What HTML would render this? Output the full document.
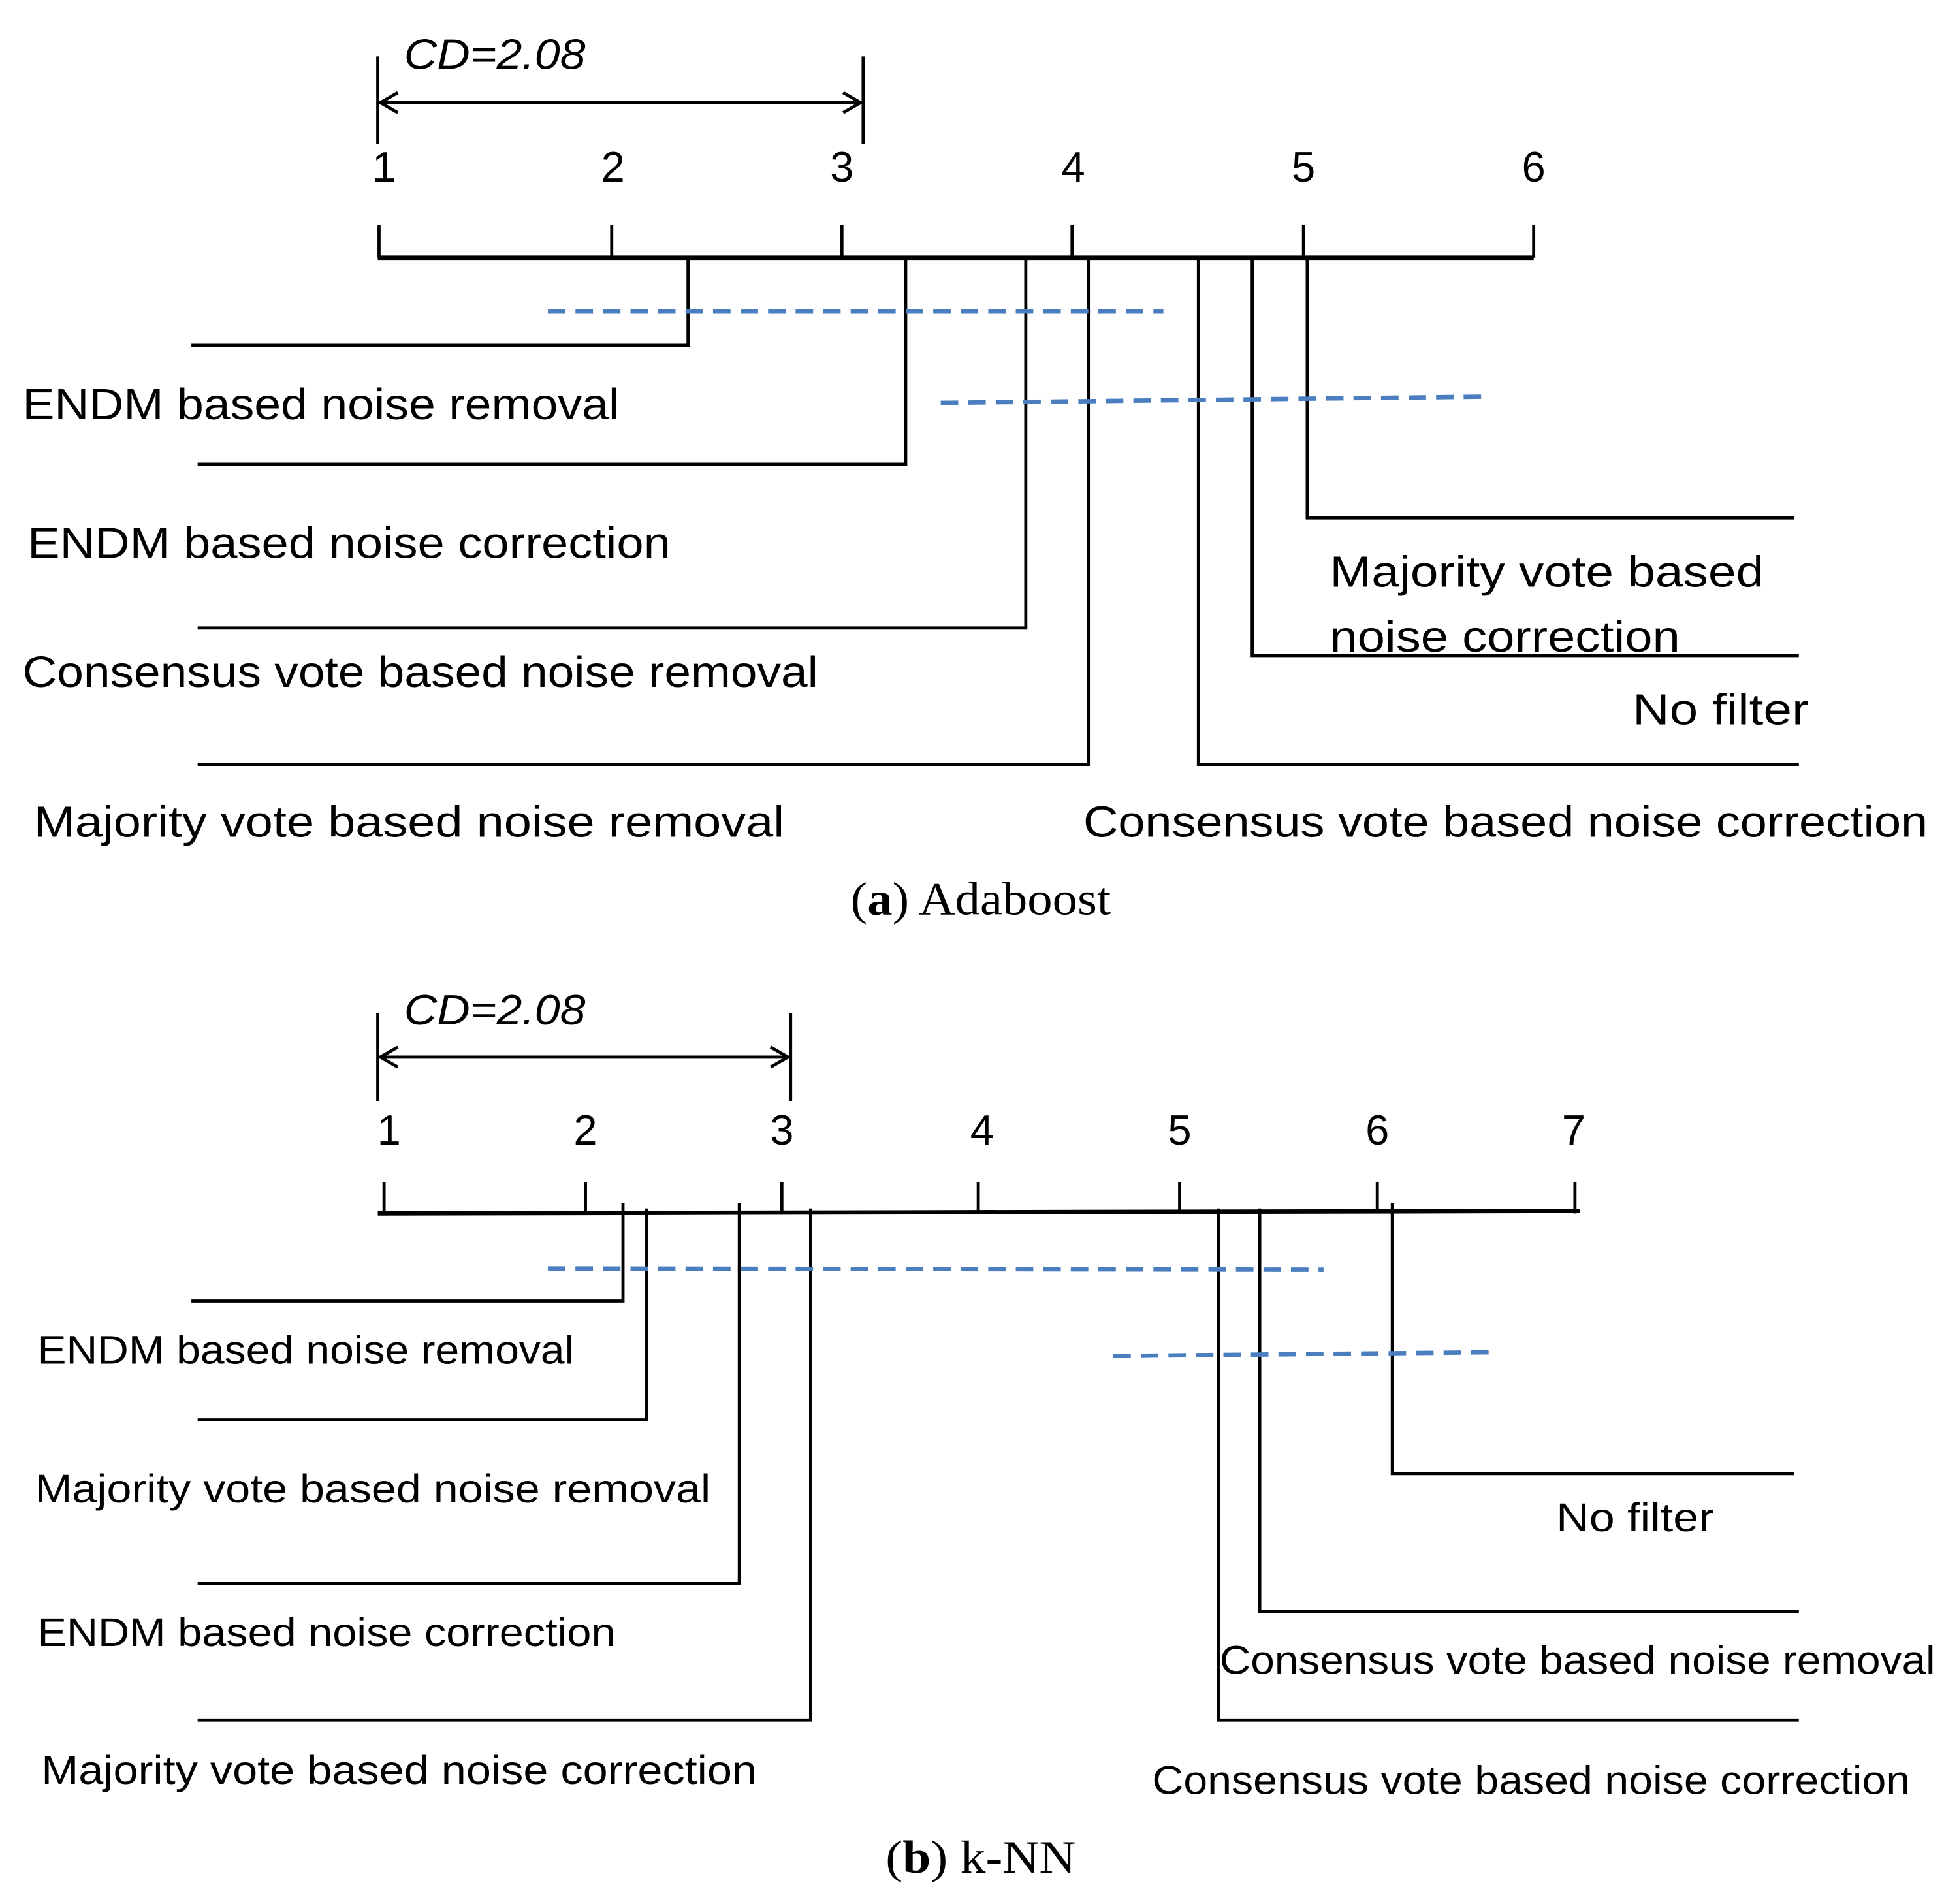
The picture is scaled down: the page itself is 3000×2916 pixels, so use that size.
<!DOCTYPE html>
<html><head><meta charset="utf-8"><style>html,body{margin:0;padding:0;background:#fff}svg{display:block}</style></head>
<body>
<svg width="3000" height="2916" viewBox="0 0 1566 1522" xmlns="http://www.w3.org/2000/svg" font-family="Liberation Sans, sans-serif">
<g stroke="#000" stroke-width="2.5" fill="none">
<line x1="302" y1="45" x2="302" y2="115"/><line x1="690" y1="45" x2="690" y2="115"/>
<line x1="304" y1="82" x2="688" y2="82"/>
<polyline points="318,74 304,82 318,90"/><polyline points="674,74 688,82 674,90"/>
<line x1="302" y1="206" x2="1226" y2="206" stroke-width="3.5"/>
<line x1="303" y1="180" x2="303" y2="206"/><line x1="489" y1="180" x2="489" y2="206"/>
<line x1="673" y1="180" x2="673" y2="206"/><line x1="857" y1="180" x2="857" y2="206"/>
<line x1="1042" y1="180" x2="1042" y2="206"/><line x1="1226" y1="180" x2="1226" y2="206"/>
<polyline points="550,206 550,276 153,276"/>
<polyline points="724,206 724,371 158,371"/>
<polyline points="820,206 820,502 158,502"/>
<polyline points="870,206 870,611 158,611"/>
<polyline points="958,206 958,611 1438,611"/>
<polyline points="1001,206 1001,524 1438,524"/>
<polyline points="1045,206 1045,414 1434,414"/>
<line x1="302" y1="810" x2="302" y2="880"/><line x1="632" y1="810" x2="632" y2="880"/>
<line x1="304" y1="845" x2="630" y2="845"/>
<polyline points="318,837 304,845 318,853"/><polyline points="616,837 630,845 616,853"/>
<line x1="302" y1="970" x2="1263" y2="968" stroke-width="3.5"/>
<line x1="307" y1="945" x2="307" y2="970"/><line x1="468" y1="945" x2="468" y2="970"/>
<line x1="625" y1="945" x2="625" y2="970"/><line x1="782" y1="945" x2="782" y2="970"/>
<line x1="943" y1="945" x2="943" y2="970"/><line x1="1101" y1="945" x2="1101" y2="970"/>
<line x1="1259" y1="945" x2="1259" y2="970"/>
<polyline points="498,962 498,1040 153,1040"/>
<polyline points="517,966 517,1135 158,1135"/>
<polyline points="591,962 591,1266 158,1266"/>
<polyline points="648,966 648,1375 158,1375"/>
<polyline points="974,966 974,1375 1438,1375"/>
<polyline points="1007,966 1007,1288 1438,1288"/>
<polyline points="1113,962 1113,1178 1434,1178"/>
</g>
<g stroke="#4a7ebf" stroke-width="3.5" stroke-dasharray="14,8" fill="none">
<line x1="438" y1="249" x2="930" y2="249"/>
<line x1="752" y1="322" x2="1190" y2="317"/>
<line x1="438" y1="1014" x2="1058" y2="1015"/>
<line x1="890" y1="1084" x2="1190" y2="1081"/>
</g>
<g font-size="34" fill="#000">
<text x="323" y="55" font-style="italic" textLength="145" lengthAdjust="spacingAndGlyphs">CD=2.08</text>
<text x="323" y="819" font-style="italic" textLength="145" lengthAdjust="spacingAndGlyphs">CD=2.08</text>
<g text-anchor="middle">
<text x="307" y="145">1</text><text x="490" y="145">2</text><text x="673" y="145">3</text><text x="858" y="145">4</text><text x="1042" y="145">5</text><text x="1226" y="145">6</text>
<text x="311" y="915">1</text><text x="468" y="915">2</text><text x="625" y="915">3</text><text x="785" y="915">4</text><text x="943" y="915">5</text><text x="1101" y="915">6</text><text x="1258" y="915">7</text>
</g>
</g>
<g font-size="35" fill="#000">
<text x="18" y="335" textLength="477" lengthAdjust="spacingAndGlyphs">ENDM based noise removal</text>
<text x="22" y="446" textLength="514" lengthAdjust="spacingAndGlyphs">ENDM based noise correction</text>
<text x="18" y="549" textLength="636" lengthAdjust="spacingAndGlyphs">Consensus vote based noise removal</text>
<text x="27" y="669" textLength="600" lengthAdjust="spacingAndGlyphs">Majority vote based noise removal</text>
<text x="866" y="669" textLength="675" lengthAdjust="spacingAndGlyphs">Consensus vote based noise correction</text>
<text x="1305" y="579" textLength="141" lengthAdjust="spacingAndGlyphs">No filter</text>
<text x="1063" y="469" textLength="347" lengthAdjust="spacingAndGlyphs">Majority vote based</text>
<text x="1063" y="521" textLength="280" lengthAdjust="spacingAndGlyphs">noise correction</text>
</g>
<g font-size="32" fill="#000">
<text x="30" y="1090" textLength="429" lengthAdjust="spacingAndGlyphs">ENDM based noise removal</text>
<text x="28" y="1201" textLength="540" lengthAdjust="spacingAndGlyphs">Majority vote based noise removal</text>
<text x="30" y="1316" textLength="462" lengthAdjust="spacingAndGlyphs">ENDM based noise correction</text>
<text x="33" y="1426" textLength="572" lengthAdjust="spacingAndGlyphs">Majority vote based noise correction</text>
<text x="1244" y="1224" textLength="126" lengthAdjust="spacingAndGlyphs">No filter</text>
<text x="975" y="1338" textLength="572" lengthAdjust="spacingAndGlyphs">Consensus vote based noise removal</text>
<text x="921" y="1434" textLength="606" lengthAdjust="spacingAndGlyphs">Consensus vote based noise correction</text>
</g>
<g font-family="Liberation Serif, serif" font-size="37" fill="#000">
<text x="680" y="731" textLength="208" lengthAdjust="spacingAndGlyphs">(<tspan font-weight="bold">a</tspan>) Adaboost</text>
<text x="708" y="1497" textLength="152" lengthAdjust="spacingAndGlyphs">(<tspan font-weight="bold">b</tspan>) k-NN</text>
</g>
</svg>
</body></html>
